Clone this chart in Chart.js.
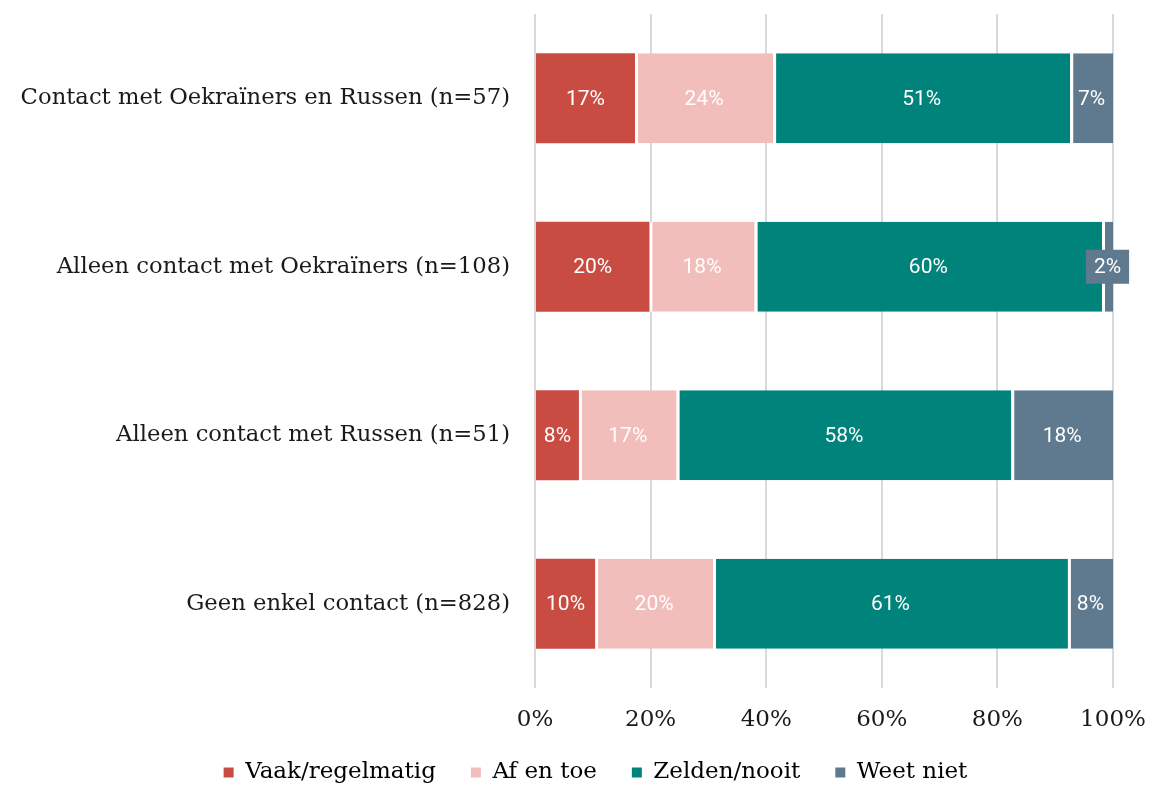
<!DOCTYPE html>
<html>
<head>
<meta charset="utf-8">
<script src="https://cdn.jsdelivr.net/npm/chart.js@4.4.0/dist/chart.umd.min.js"></script>
<style>
  html, body { margin: 0; padding: 0; background: #fff; }
  #wrap { width: 1150px; height: 786px; }
</style>
</head>
<body>
<div id="wrap"><canvas id="myChart" width="1150" height="786"></canvas></div>
<script>
// data
var categorieen = [
    'Contact met Oekraïners en Russen (n=57)',
    'Alleen contact met Oekraïners (n=108)',
    'Alleen contact met Russen (n=51)',
    'Geen enkel contact (n=828)'
];
var vaak = [17.3, 19.8, 7.6, 10.4];
var afEnToe = [23.9, 18.2, 16.9, 20.4];
var zelden = [51.4, 60.1, 57.9, 61.4];
var weetNiet = [7.4, 1.9, 17.6, 7.8];
var tickLabels = ['0%', '20%', '40%', '60%', '80%', '100%'];

var serif = '"DejaVu Serif", serif';

// labels in the bars
var barLabels = {
    id: 'barLabels',
    afterDatasetsDraw: function (chart) {
        var ctx = chart.ctx;
        ctx.save();
        ctx.font = '400 21px Roboto';
        ctx.textAlign = 'center';
        ctx.textBaseline = 'middle';
        chart.data.datasets.forEach(function (ds, i) {
            var meta = chart.getDatasetMeta(i);
            meta.data.forEach(function (bar, j) {
                var txt = Math.round(ds.data[j]) + '%';
                var w = Math.abs(bar.x - bar.base);
                var cx = (bar.x + bar.base) / 2;
                if (w < 30) {
                    var tw = ctx.measureText(txt).width + 16;
                    ctx.fillStyle = ds.backgroundColor;
                    ctx.fillRect(cx - tw / 2, bar.y - 17, tw, 34);
                }
                ctx.fillStyle = '#ffffff';
                ctx.fillText(txt, cx, bar.y + 1);
            });
        });
        ctx.restore();
    }
};

// move the legend a bit (up and to the right), like in the original
var legendShift = {
    id: 'legendShift',
    afterLayout: function (chart) {
        var lg = chart.legend;
        lg.top -= 23;
        lg.bottom -= 23;
        lg.left += 39;
        lg.right += 39;
    }
};

function reeks(label, data, kleur, eerste) {
    return {
        label: label,
        data: data,
        backgroundColor: kleur,
        borderColor: '#ffffff',
        borderWidth: eerste ? 0 : {left: 3, right: 0, top: 0, bottom: 0},
        borderSkipped: false,
        categoryPercentage: 0.534,
        barPercentage: 1
    };
}

var config = {
    type: 'bar',
    data: {
        labels: categorieen,
        datasets: [
            reeks('Vaak/regelmatig', vaak, '#c94c43', true),
            reeks('Af en toe', afEnToe, '#f1bebb', false),
            reeks('Zelden/nooit', zelden, '#00837a', false),
            reeks('Weet niet', weetNiet, '#5f7a8e', false)
        ]
    },
    options: {
        indexAxis: 'y',
        responsive: false,
        animation: false,
        layout: { padding: { top: 14, right: 37, left: 0, bottom: -31 } },
        scales: {
            x: {
                stacked: true,
                min: 0,
                max: 100,
                grid: { color: '#d9d9d9', lineWidth: 2, drawTicks: false },
                border: { display: false },
                ticks: {
                    stepSize: 20,
                    padding: 18,
                    color: '#1a1a1a',
                    font: { family: serif, size: 23 },
                    callback: function (v, i) { return tickLabels[i]; }
                },
                afterFit: function (scale) {
                    scale.height = 61;
                    scale.paddingLeft = 0;
                    scale.paddingRight = 0;
                }
            },
            y: {
                stacked: true,
                grid: { display: false, drawTicks: false },
                border: { display: false },
                ticks: {
                    padding: 25,
                    color: '#1a1a1a',
                    font: { family: serif, size: 22.7 }
                },
                afterFit: function (scale) {
                    scale.width = 535;
                    scale.paddingTop = 0;
                    scale.paddingBottom = 0;
                }
            }
        },
        plugins: {
            tooltip: { enabled: false },
            legend: {
                position: 'bottom',
                labels: {
                    boxWidth: 10,
                    boxHeight: 10,
                    padding: 35,
                    color: '#1a1a1a',
                    font: { family: serif, size: 23 },
                    generateLabels: function (chart) {
                        return chart.data.datasets.map(function (ds, i) {
                            return {
                                text: ds.label,
                                fillStyle: ds.backgroundColor,
                                strokeStyle: ds.backgroundColor,
                                lineWidth: 0,
                                datasetIndex: i
                            };
                        });
                    }
                }
            }
        }
    },
    plugins: [barLabels, legendShift]
};

var myChart = new Chart(document.getElementById('myChart'), config);
</script>
</body>
</html>
